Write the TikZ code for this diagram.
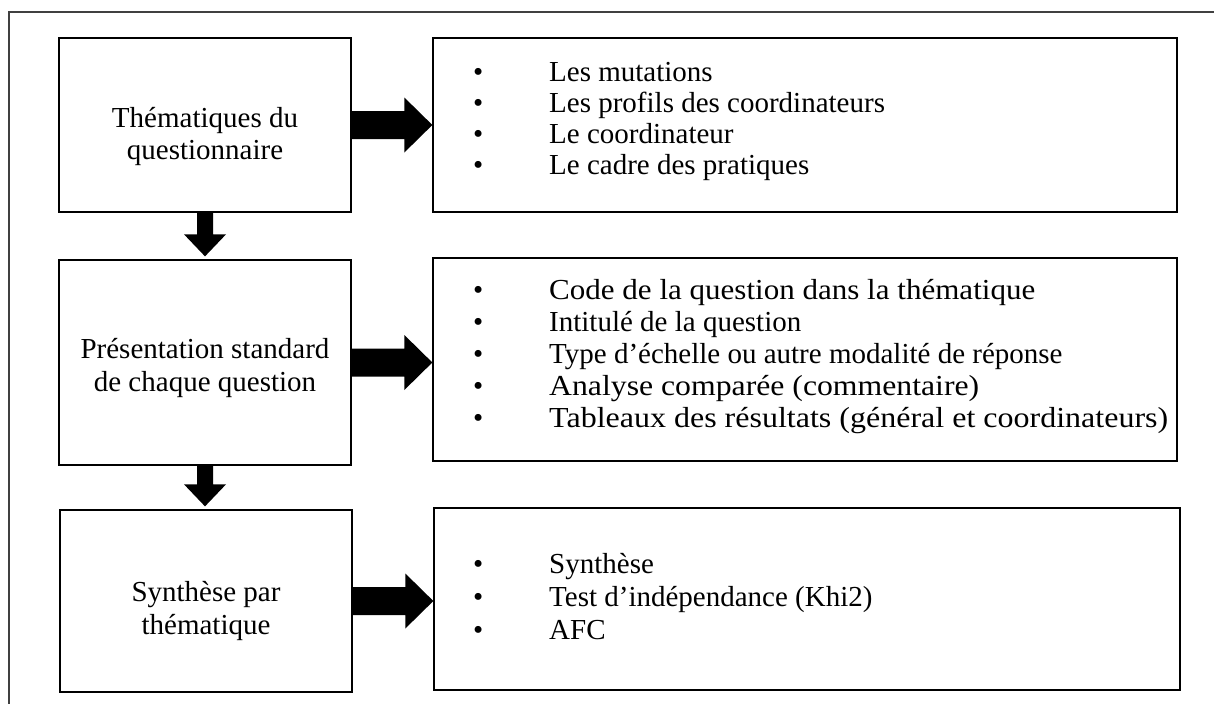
\documentclass[tikz,border=0pt]{standalone}
\usepackage{fontspec}
\setmainfont{Liberation Serif}
\usetikzlibrary{calc}
\begin{document}
\begin{tikzpicture}[x=1pt,y=-1pt,
  box/.style={draw=black, line width=1.3pt, inner sep=0pt, fill=white},
  txt/.style={font=\fontsize{29}{33}\selectfont, inner sep=0pt},
  item/.style={txt, anchor=base west},
  frameline/.style={draw=black!75, line width=1.3pt},
  fatarrow/.style={fill=black}]
\useasboundingbox (0,0) rectangle (1214,704);
\fill[white] (0,0) rectangle (1214,704);
% outer frame
\draw[frameline] (1214,12) -- (9,12) -- (9,704);

% left boxes
\node[box, minimum width=292pt, minimum height=174pt] (l1) at (205,125) {};
\node[box, minimum width=292pt, minimum height=205pt] (l2) at (205,362.5) {};
\node[box, minimum width=292pt, minimum height=182pt] (l3) at (206,601) {};
% right boxes
\node[box, minimum width=744pt, minimum height=174pt] (r1) at (805,125) {};
\node[box, minimum width=744pt, minimum height=203pt] (r2) at (805,359.5) {};
\node[box, minimum width=746pt, minimum height=182pt] (r3) at (807,599) {};

% left texts
\node[txt, anchor=base] (l1a) at (205,127) {Thématiques du};
\node[txt, anchor=base] (l1b) at (205,159) {questionnaire};
\node[txt, anchor=base] (l2a) at (205,358) {Présentation standard};
\node[txt, anchor=base] (l2b) at (205,391) {de chaque question};
\node[txt, anchor=base] (l3a) at (206,601) {Synthèse par};
\node[txt, anchor=base] (l3b) at (206,634) {thématique};

% bullets
\foreach \yy [count=\i] in {81,112,143,174}{\node[item] (ba\i) at (473,\yy) {•};}
\foreach \yy [count=\i] in {299,331,363,395,427}{\node[item] (bb\i) at (473,\yy) {•};}
\foreach \yy [count=\i] in {573,606,639}{\node[item] (bc\i) at (473,\yy) {•};}

% right texts, box 1
\node[item] (ia1) at (549,81) {Les mutations};
\node[item] (ia2) at (549,112) {Les profils des coordinateurs};
\node[item] (ia3) at (549,143) {Le coordinateur};
\node[item] (ia4) at (549,174) {Le cadre des pratiques};
% box 2
\node[item] (ib1) at (549,299) {\resizebox{486pt}{\height}{Code de la question dans la thématique}};
\node[item] (ib2) at (549,331) {Intitulé de la question};
\node[item] (ib3) at (549,363) {Type d’échelle ou autre modalité de réponse};
\node[item] (ib4) at (549,395) {\resizebox{430pt}{\height}{Analyse comparée (commentaire)}};
\node[item] (ib5) at (549,427) {\resizebox{619pt}{\height}{Tableaux des résultats (général et coordinateurs)}};
% box 3
\node[item] (ic1) at (549,573) {Synthèse};
\node[item] (ic2) at (549,606) {Test d’indépendance (Khi2)};
\node[item] (ic3) at (549,639) {AFC};

% fat right arrows
\foreach \a/\b in {l1/r1, l2/r2, l3/r3}{
  \fill[fatarrow] let \p1=(\a.east), \p2=(\b.west) in
    (\x1,{\y1+14pt}) -- ({\x2-28pt},{\y1+14pt}) -- ({\x2-28pt},{\y1+27.5pt})
    -- (\x2,\y1) -- ({\x2-28pt},{\y1-27.5pt}) -- ({\x2-28pt},{\y1-14pt})
    -- (\x1,{\y1-14pt}) -- cycle;
}
% fat down arrows
\foreach \a/\b in {l1/l2, l2/l3}{
  \fill[fatarrow] let \p1=(\a.south), \p2=(\b.north) in
    ({\x1-8pt},\y1) -- ({\x1+8pt},\y1) -- ({\x1+8pt},{\y2+25pt})
    -- ({\x1+21pt},{\y2+25pt}) -- (\x1,{\y2+3pt}) -- ({\x1-21pt},{\y2+25pt})
    -- ({\x1-8pt},{\y2+25pt}) -- cycle;
}
\end{tikzpicture}
\end{document}
